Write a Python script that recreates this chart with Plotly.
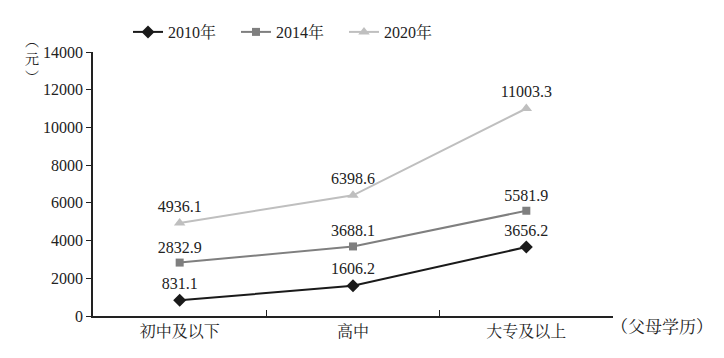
import plotly.graph_objects as go

categories = ["初中及以下", "高中", "大专及以上"]
series_names = ["2010年", "2014年", "2020年"]
v2010 = [831.1, 1606.2, 3656.2]
v2014 = [2832.9, 3688.1, 5581.9]
v2020 = [4936.1, 6398.6, 11003.3]
y_ticks = [0, 2000, 4000, 6000, 8000, 10000, 12000, 14000]

FONT = "Liberation Serif, Noto Serif CJK SC, Noto Sans CJK SC"
colors = ["#1a1a1a", "#7f7f7f", "#bfbfbf"]
symbols = ["diamond", "square", "triangle-up"]
sizes = [10, 8, 10]

# the page body has an 8px margin, so the figure is 8px smaller each way
W, H = 716, 350
L, R, T, B = 85, 111, 44, 42
PW, PH = W - L - R, H - T - B

fig = go.Figure()
for name, vals, c, s, ms in zip(series_names, [v2010, v2014, v2020], colors, symbols, sizes):
    fig.add_trace(go.Scatter(
        x=categories, y=vals, name=name, mode="lines+markers+text",
        line=dict(color=c, width=2),
        marker=dict(symbol=s, size=ms, color=c),
        text=[f"{v:.1f}" for v in vals], textposition="top center",
        textfont=dict(family=FONT, size=16, color="#222"),
        cliponaxis=False,
    ))

fig.update_layout(
    width=W, height=H,
    margin=dict(l=L, r=R, t=T, b=B, autoexpand=False),
    plot_bgcolor="white", paper_bgcolor="white",
    font=dict(family=FONT, size=16, color="#222"),
    showlegend=True,
    legend=dict(orientation="h", x=(120 - L) / PW, xref="paper", xanchor="left",
                y=1 - 24 / H, yref="container", yanchor="middle",
                entrywidth=63, entrywidthmode="pixels",
                font=dict(family=FONT, size=16), tracegroupgap=0),
    xaxis=dict(type="category", showline=True, linecolor="#222", linewidth=1.5,
               ticks="inside", tickson="boundaries", ticklen=6, tickcolor="#222",
               showgrid=False, tickfont=dict(size=16), range=[-0.5, 2.5]),
    yaxis=dict(range=[0, 14000], tickvals=y_ticks, tickformat="d", showline=True,
               linecolor="#222", linewidth=1.5, ticks="outside", ticklen=5,
               tickcolor="#222", showgrid=False, zeroline=False,
               tickfont=dict(size=16)),
)

fig.add_annotation(text="︵<br>元<br>︶", xref="paper", yref="paper",
                   x=(15 - L) / PW, y=(PH - (52 - T)) / PH, showarrow=False,
                   font=dict(family=FONT, size=14), yanchor="middle")
fig.add_annotation(text="（父母学历）", xref="paper", yref="paper", x=1.0, xshift=-4,
                   y=-11 / PH, xanchor="left", yanchor="middle", showarrow=False,
                   font=dict(family=FONT, size=17))

fig.write_html("out.html")
